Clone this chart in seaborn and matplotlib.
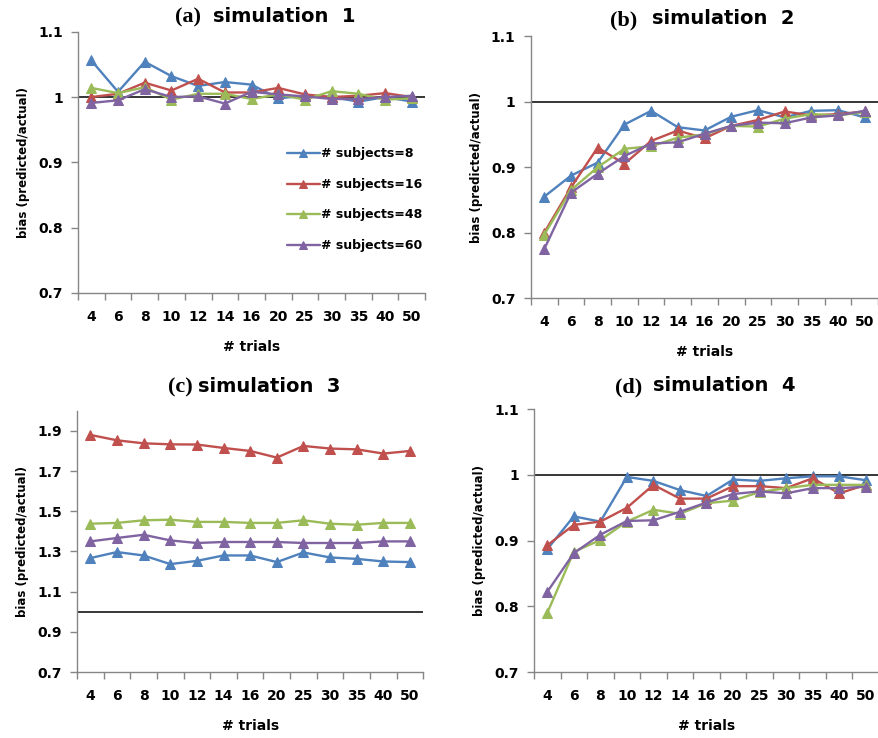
import pandas as pd
import matplotlib
matplotlib.use("Agg")
import matplotlib.pyplot as plt
import seaborn as sns

# -----------------------------------------
# data
# -----------------------------------------
trials = ["4", "6", "8", "10", "12", "14", "16", "20", "25", "30", "35", "40", "50"]
groups = ["# subjects=8", "# subjects=16", "# subjects=48", "# subjects=60"]
colors = ["#4F81BD", "#C0504D", "#9BBB59", "#8064A2"]

sim1_s8 = [1.056, 1.008, 1.054, 1.032, 1.017, 1.023, 1.019, 0.998, 1.002, 1.000, 0.993, 1.000, 0.993]
sim1_s16 = [1.000, 1.005, 1.022, 1.010, 1.028, 1.007, 1.007, 1.014, 1.004, 1.000, 1.002, 1.006, 1.000]
sim1_s48 = [1.014, 1.006, 1.015, 0.996, 1.005, 1.005, 0.997, 1.004, 0.996, 1.009, 1.005, 0.996, 0.998]
sim1_s60 = [0.991, 0.995, 1.012, 1.000, 1.001, 0.990, 1.008, 1.004, 1.001, 0.997, 0.997, 1.000, 1.002]

sim2_s8 = [0.855, 0.887, 0.907, 0.965, 0.986, 0.961, 0.956, 0.977, 0.987, 0.976, 0.986, 0.987, 0.976]
sim2_s16 = [0.800, 0.869, 0.930, 0.905, 0.940, 0.956, 0.944, 0.963, 0.972, 0.985, 0.979, 0.981, 0.985]
sim2_s48 = [0.797, 0.865, 0.900, 0.928, 0.932, 0.945, 0.950, 0.963, 0.962, 0.974, 0.981, 0.979, 0.984]
sim2_s60 = [0.775, 0.861, 0.890, 0.917, 0.936, 0.938, 0.951, 0.963, 0.968, 0.967, 0.976, 0.979, 0.986]

sim3_s8 = [1.267, 1.297, 1.280, 1.237, 1.253, 1.280, 1.280, 1.247, 1.295, 1.270, 1.263, 1.250, 1.247]
sim3_s16 = [1.880, 1.853, 1.838, 1.833, 1.832, 1.815, 1.800, 1.767, 1.825, 1.812, 1.808, 1.787, 1.800]
sim3_s48 = [1.438, 1.442, 1.455, 1.458, 1.447, 1.447, 1.442, 1.442, 1.455, 1.438, 1.433, 1.442, 1.442]
sim3_s60 = [1.350, 1.367, 1.383, 1.355, 1.342, 1.347, 1.347, 1.347, 1.342, 1.342, 1.342, 1.350, 1.350]

sim4_s8 = [0.887, 0.937, 0.929, 0.997, 0.991, 0.977, 0.968, 0.993, 0.991, 0.995, 0.998, 0.998, 0.992]
sim4_s16 = [0.893, 0.924, 0.929, 0.950, 0.985, 0.964, 0.964, 0.983, 0.983, 0.980, 0.995, 0.972, 0.985]
sim4_s48 = [0.790, 0.883, 0.901, 0.929, 0.947, 0.941, 0.957, 0.961, 0.974, 0.980, 0.985, 0.985, 0.985]
sim4_s60 = [0.822, 0.881, 0.909, 0.930, 0.931, 0.944, 0.958, 0.971, 0.975, 0.972, 0.980, 0.980, 0.982]

panels = [
    ("(a)", "simulation  1", [sim1_s8, sim1_s16, sim1_s48, sim1_s60]),
    ("(b)", "simulation  2", [sim2_s8, sim2_s16, sim2_s48, sim2_s60]),
    ("(c)", "simulation  3", [sim3_s8, sim3_s16, sim3_s48, sim3_s60]),
    ("(d)", "simulation  4", [sim4_s8, sim4_s16, sim4_s48, sim4_s60]),
]

yticks_small = [0.7, 0.8, 0.9, 1.0, 1.1]
yticks_sim3 = [0.7, 0.9, 1.1, 1.3, 1.5, 1.7, 1.9]

# axes boxes in figure fractions [left, bottom, width, height]
boxes = [
    [0.0887, 0.603, 0.395, 0.354],
    [0.604, 0.596, 0.395, 0.355],
    [0.0876, 0.0894, 0.394, 0.354],
    [0.6075, 0.0894, 0.3925, 0.356],
]
title_x = [(0.354, 0.388), (0.307, 0.35), (0.335, 0.35), (0.313, 0.345)]
title_y = [1.054, 1.061, 1.088, 1.084]

sns.set_style("ticks")
plt.rcParams["font.family"] = ["DejaVu Sans"]
plt.rcParams["text.color"] = "black"
plt.rcParams["axes.labelcolor"] = "black"
plt.rcParams["xtick.labelcolor"] = "black"
plt.rcParams["ytick.labelcolor"] = "black"

fig = plt.figure(figsize=(8.79, 7.38), dpi=100)

for i, (tag, name, series) in enumerate(panels):
    ax = fig.add_axes(boxes[i])

    rows = []
    for g, vals in zip(groups, series):
        for pos, v in enumerate(vals):
            rows.append({"pos": pos, "bias": v, "group": g})
    df = pd.DataFrame(rows)

    sns.lineplot(data=df, x="pos", y="bias", hue="group", hue_order=groups,
                 palette=colors, marker="^", markersize=7, linewidth=1.7,
                 ax=ax, legend=(i == 0))
    for ln in ax.lines:
        ln.set_markeredgecolor(ln.get_color())

    ax.axhline(1.0, color="black", lw=1.1, zorder=1)

    if i == 2:
        ax.set_ylim(0.7, 2.0)
        ax.set_yticks(yticks_sim3)
        ax.set_yticklabels([f"{t:g}" for t in yticks_sim3])
    else:
        ax.set_ylim(0.7, 1.1)
        ax.set_yticks(yticks_small)
        ax.set_yticklabels([f"{t:g}" for t in yticks_small])

    ax.set_xlim(-0.5, len(trials) - 0.5)
    ax.set_xticks(range(len(trials)))
    ax.set_xticklabels(trials)
    ax.set_xticks([k - 0.5 for k in range(len(trials) + 1)], minor=True)
    ax.tick_params(axis="x", which="major", length=0, pad=12, labelsize=10)
    ax.tick_params(axis="x", which="minor", length=5, color="#868686", width=1)
    ax.tick_params(axis="y", length=5, color="#868686", width=1, labelsize=10, pad=6)
    for lbl in ax.get_xticklabels() + ax.get_yticklabels():
        lbl.set_fontweight("bold")

    sns.despine(ax=ax)
    for side in ["left", "bottom"]:
        ax.spines[side].set_color("#868686")
        ax.spines[side].set_linewidth(1)

    ax.set_xlabel("# trials", fontsize=10, fontweight="bold", labelpad=12)
    ax.set_ylabel("bias (predicted/actual)", fontsize=8.5, fontweight="bold", labelpad=6)

    tx1, tx2 = title_x[i]
    ax.text(tx1, title_y[i], tag, transform=ax.transAxes, ha="right", va="center",
            fontsize=16, fontweight="bold", family=["Liberation Serif", "DejaVu Serif"])
    ax.text(tx2, title_y[i] + 0.005, name, transform=ax.transAxes, ha="left", va="center",
            fontsize=14, fontweight="bold")

    if i == 0:
        leg = ax.legend(loc="upper left", bbox_to_anchor=(0.57, 0.6), frameon=False,
                        fontsize=9, handlelength=2.6, handletextpad=0.15,
                        labelspacing=1.4, markerscale=0.9)
        for t in leg.get_texts():
            t.set_fontweight("bold")

fig.savefig("out.png", dpi=100, facecolor="white")
